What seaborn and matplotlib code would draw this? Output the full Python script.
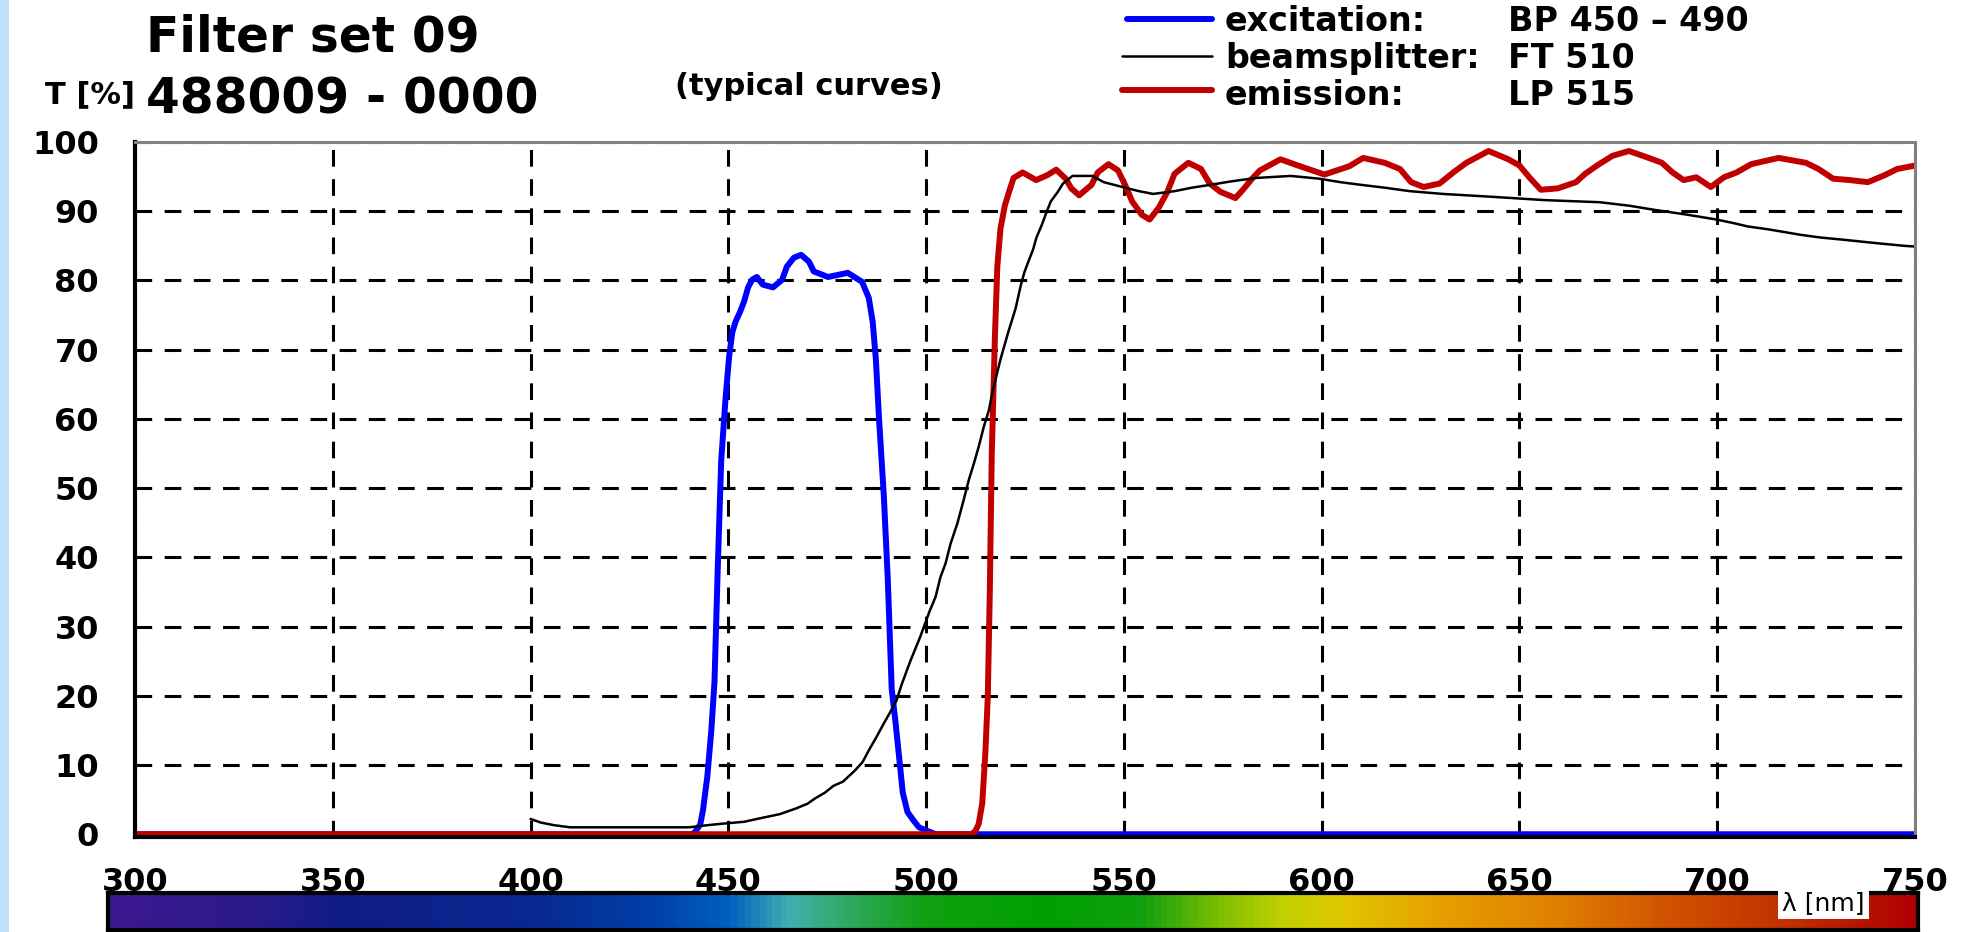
import numpy as np
import pandas as pd
import matplotlib
matplotlib.use("Agg")
import matplotlib.pyplot as plt
import seaborn as sns
from matplotlib.colors import LinearSegmentedColormap
from matplotlib.lines import Line2D
from matplotlib.patches import Rectangle

# ==========================================
# 1. Data
# ==========================================

# excitation BP 450-490
wl_ex = [300, 441, 441.8, 442.9, 443.6, 444.7, 445.7, 446.5, 447.3, 448.2,
         449.3, 450.2, 451, 451.8, 453, 454, 455, 456, 457.2, 458.7,
         461.3, 463.6, 464.8, 466.6, 468.4, 470.4, 471.6, 475.2, 480.2, 483.8,
         485.5, 486.5, 487.3, 488.1, 489.3, 490.3, 491.3, 492.3, 493.2, 494.1,
         495.3, 496.8, 498.2, 500.2, 502.5, 750]
t_ex = [0, 0, 0.5, 1.4, 3.5, 8.4, 15, 22, 38, 54,
        63, 69, 72.5, 74, 75.5, 77, 79, 80.1, 80.5, 79.4,
        79, 80.1, 82, 83.3, 83.7, 82.7, 81.3, 80.5, 81.1, 79.8,
        77.5, 74, 68.6, 60, 49, 37, 21, 16, 11, 6,
        3.2, 2, 1, 0.5, 0, 0]

# beamsplitter FT 510
wl_bs = [400, 402.5, 406, 410, 440, 443, 448, 454, 458, 463,
         467, 470, 472, 474.4, 476.6, 479, 480.3, 482, 483.9, 485.7,
         487.5, 489.3, 490.7, 492.5, 493.8, 496, 498.5, 500.8, 502.4, 503.6,
         504.9, 506.2, 507.9, 509.5, 510.8, 512.1, 513.3, 514.6, 515.9, 516.7,
         518.8, 520.8, 522.6, 523.9, 524.8, 525.7, 527, 527.9, 529.3, 530.2,
         531.5, 533.3, 534.6, 537, 542, 544.9, 547.6, 550.3, 553.8, 557.4,
         562.8, 567.2, 571.7, 577, 583.3, 592.2, 599.4, 604.7, 610.1, 615.9,
         622.3, 630.6, 642.6, 656.5, 670.3, 677.7, 684.1, 692.4, 699.8, 704,
         707.7, 712.7, 716.9, 721, 726.1, 731.6, 740, 747.3, 750]
t_bs = [2.2, 1.7, 1.3, 1.0, 1.0, 1.2, 1.5, 1.8, 2.3, 2.9,
        3.7, 4.4, 5.2, 6, 7, 7.6, 8.3, 9.2, 10.4, 12.3,
        14.1, 16, 17.4, 19.3, 21.6, 25, 28.5, 32.1, 34.3, 37.1,
        39.1, 42, 44.9, 48.3, 51.2, 53.6, 56, 58.9, 61.3, 63.7,
        68.6, 72.6, 75.9, 79.2, 81.1, 82.5, 84.4, 86.2, 88.1, 89.5,
        91.4, 92.8, 94, 95.1, 95.1, 94.2, 93.8, 93.4, 92.9, 92.5,
        92.9, 93.4, 93.8, 94.3, 94.8, 95.1, 94.7, 94.2, 93.8, 93.4,
        92.9, 92.5, 92.1, 91.6, 91.3, 90.8, 90.2, 89.5, 88.8, 88.3,
        87.8, 87.4, 87, 86.6, 86.2, 85.9, 85.4, 85, 84.9]

# emission LP 515
wl_em = [300, 511.5, 512.5, 513.3, 514.2, 515, 515.6, 516.1, 516.6, 517.4,
         518, 518.8, 519.9, 520.8, 522.1, 524.4, 527.8, 530.6, 532.9, 535.3,
         536.7, 538.7, 541.8, 543.4, 546.1, 548.5, 550.3, 552.1, 554.5, 556.5,
         558.8, 561, 562.8, 566.3, 569.5, 571.7, 574.4, 578.2, 580.4, 582.4,
         584.4, 589.6, 594, 600.7, 607, 610.5, 615.9, 619.8, 622.6, 625.8,
         629.8, 633.5, 636.6, 642.2, 647.2, 650, 652.8, 655.4, 659.7, 664.3,
         666.6, 669.6, 673.5, 677.7, 682.7, 686, 688.7, 691.5, 694.7, 698.4,
         701.7, 704.9, 708.6, 715.5, 722.4, 725.6, 729.3, 733.5, 738.1, 742.3,
         745.5, 750]
t_em = [0, 0, 0.5, 1.5, 4.5, 12, 20, 35, 55, 72,
        82, 87.5, 90.8, 92.5, 94.8, 95.6, 94.5, 95.2, 96, 94.7,
        93.3, 92.3, 93.8, 95.6, 96.8, 95.9, 93.8, 91.4, 89.5, 88.8,
        90.5, 92.8, 95.4, 97, 96.1, 94, 92.8, 91.9, 93.3, 94.7,
        95.9, 97.5, 96.6, 95.3, 96.5, 97.7, 97, 96.1, 94.2, 93.5,
        94, 95.7, 97, 98.7, 97.5, 96.6, 94.7, 93.1, 93.3, 94.2,
        95.4, 96.6, 98, 98.7, 97.7, 97, 95.6, 94.5, 94.9, 93.5,
        94.9, 95.6, 96.8, 97.7, 97, 96.1, 94.7, 94.5, 94.2, 95.2,
        96.1, 96.6]

x_ticks = [300, 350, 400, 450, 500, 550, 600, 650, 700, 750]
y_ticks = [0, 10, 20, 30, 40, 50, 60, 70, 80, 90, 100]

legend_names = ["excitation:", "beamsplitter:", "emission:"]
legend_types = ["BP 450 – 490", "FT 510", "LP 515"]

# spectrum strip under the axis
spec_nm = [293, 330, 350, 400, 430, 450, 465, 480, 500, 530, 555, 575, 590,
           605, 630, 660, 690, 720, 751]
spec_col = ["#3c1890", "#2a1a8a", "#101c88", "#0a2890", "#0040a8", "#0060c0",
            "#40b0b0", "#30a860", "#10a010", "#00a000", "#10a010", "#80c000",
            "#c0d000", "#e0c800", "#e8a000", "#e08000", "#d05000", "#c03000",
            "#b00000"]

# ==========================================
# 2. Plot
# ==========================================

W, H = 1970, 932
sns.set_theme(style="white")
plt.rcParams["font.family"] = ["DejaVu Sans"]
plt.rcParams["lines.scale_dashes"] = False
plt.rcParams["text.color"] = "black"
plt.rcParams["xtick.color"] = "black"
plt.rcParams["ytick.color"] = "black"

fig = plt.figure(figsize=(W / 100, H / 100), dpi=100)
fig.patch.set_facecolor("white")
fig.patches.append(Rectangle((0, 0), 9 / W, 1, transform=fig.transFigure,
                             facecolor="#c4e0ff", edgecolor="none"))

ax = fig.add_axes([135 / W, 1 - 837 / H, 1780 / W, 695 / H])

curves = [
    (wl_ex, t_ex, "#0000ff", 4.3),
    (wl_em, t_em, "#c00000", 4.3),
    (wl_bs, t_bs, "black", 1.8),
]
for wl, t, col, lw in curves:
    df = pd.DataFrame({"wl": wl, "T": t})
    sns.lineplot(data=df, x="wl", y="T", ax=ax, color=col, linewidth=lw,
                 estimator=None, sort=False)

ax.set_xlim(300, 750)
ax.set_ylim(-0.4, 100)
ax.set_xticks(x_ticks)
ax.set_yticks(y_ticks)
ax.set_xlabel("")
ax.set_ylabel("")
ax.set_axisbelow(True)
ax.grid(True, color="black", linewidth=2.2, linestyle=(0, (12, 9)))

for s in ["left", "bottom"]:
    ax.spines[s].set_color("black")
    ax.spines[s].set_linewidth(3)
for s in ["top", "right"]:
    ax.spines[s].set_color("#808080")
    ax.spines[s].set_linewidth(2.2)

ax.tick_params(axis="y", direction="inout", length=18, width=2.2,
               color="black", labelcolor="black", pad=17, labelsize=23)
ax.tick_params(axis="x", direction="inout", length=11, width=2.2,
               color="black", labelcolor="black", pad=16, labelsize=23)
for lab in ax.get_xticklabels() + ax.get_yticklabels():
    lab.set_fontweight("bold")

# header texts
fig.text(146 / W, 1 - 52 / H, "Filter set 09", fontsize=35, fontweight="bold",
         color="black", va="baseline", ha="left")
fig.text(146 / W, 1 - 114 / H, "488009 - 0000", fontsize=35, fontweight="bold",
         color="black", va="baseline", ha="left")
fig.text(45 / W, 1 - 103 / H, "T [%]", fontsize=22, fontweight="bold",
         color="black", va="baseline", ha="left")
fig.text(675 / W, 1 - 95 / H, "(typical curves)", fontsize=22,
         fontweight="bold", color="black", va="baseline", ha="left")

# legend drawn by hand at the top right
leg_cols = ["#0000ff", "black", "#c00000"]
leg_lw = [4.3, 1.8, 4.3]
leg_line_y = [19, 56, 90]
leg_base_y = [31, 68, 105]
for i in range(3):
    x0 = 1127 if i == 0 else 1122
    fig.add_artist(Line2D([x0 / W, 1212 / W], [1 - leg_line_y[i] / H] * 2,
                          color=leg_cols[i], linewidth=leg_lw[i],
                          transform=fig.transFigure))
    fig.text(1225 / W, 1 - leg_base_y[i] / H, legend_names[i], fontsize=24,
             fontweight="bold", color="black", va="baseline", ha="left")
    fig.text(1508 / W, 1 - leg_base_y[i] / H, legend_types[i], fontsize=24,
             fontweight="bold", color="black", va="baseline", ha="left")

# spectrum colour strip
cax = fig.add_axes([108 / W, 1 - 930 / H, 1810 / W, 37 / H])
pos = [(v - spec_nm[0]) / (spec_nm[-1] - spec_nm[0]) for v in spec_nm]
cmap = LinearSegmentedColormap.from_list("spec", list(zip(pos, spec_col)))
grad = np.linspace(spec_nm[0], spec_nm[-1], 600).reshape(1, -1)
cax.imshow(grad, aspect="auto", cmap=cmap,
           extent=[spec_nm[0], spec_nm[-1], 0, 1])
cax.set_xticks([])
cax.set_yticks([])
for s in cax.spines.values():
    s.set_color("black")
    s.set_linewidth(3)

fig.text(1823 / W, 1 - 903 / H, "λ [nm]", fontsize=18, color="black",
         ha="center", va="center",
         bbox=dict(facecolor="white", edgecolor="none", pad=3))

fig.savefig("out.png", dpi=100, facecolor="white")
plt.close(fig)
